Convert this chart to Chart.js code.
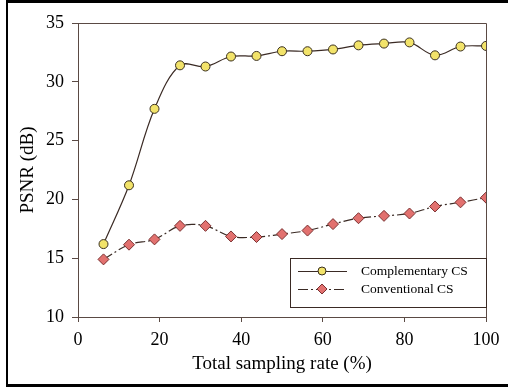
<!DOCTYPE html>
<html>
<head>
<meta charset="utf-8">
<script src="https://cdn.jsdelivr.net/npm/chart.js@4"></script>
<style>
  html, body { margin: 0; padding: 0; background: #fff; }
  #wrap { position: relative; width: 508px; height: 392px; overflow: hidden; }
  #frame {
    position: absolute; left: 6px; top: 0; width: 520px; height: 381px;
    border-top: 3px solid #000; border-left: 2px solid #000; border-bottom: 3px solid #000;
    pointer-events: none;
  }
  canvas { position: absolute; left: 0; top: 0; }
</style>
</head>
<body>
<div id="wrap">
  <canvas id="psnrChart" width="508" height="392"></canvas>
  <div id="frame"></div>
</div>
<script>
/* ---------- data ---------- */
const samplingRates = [6.25, 12.5, 18.75, 25, 31.25, 37.5, 43.75, 50, 56.25, 62.5, 68.75, 75, 81.25, 87.5, 93.75, 100];
const complementaryPSNR = [16.2, 21.2, 27.7, 31.4, 31.3, 32.15, 32.2, 32.6, 32.6, 32.75, 33.1, 33.25, 33.35, 32.25, 33.0, 33.05];
const conventionalPSNR = [14.9, 16.15, 16.6, 17.75, 17.75, 16.85, 16.8, 17.05, 17.35, 17.9, 18.4, 18.6, 18.8, 19.4, 19.75, 20.15];
const xTicks = [0, 20, 40, 60, 80, 100];
const yTicks = [10, 15, 20, 25, 30, 35];

const AXIS = "#5a4a44";
const FONT = "'Liberation Serif', 'Times New Roman', serif";

function toPoints(xs, ys) {
    return xs.map((x, i) => ({ x: x, y: ys[i] }));
}

/* frame on top/right of plot + boxed legend */
const framePlugin = {
    id: "plotFrame",
    afterDraw(chart) {
        const { ctx, chartArea: a } = chart;
        ctx.save();
        ctx.strokeStyle = AXIS;
        ctx.lineWidth = 1;
        ctx.beginPath();
        ctx.moveTo(a.left, a.top + 0.5);
        ctx.lineTo(a.right + 0.5, a.top + 0.5);
        ctx.lineTo(a.right + 0.5, a.bottom);
        ctx.stroke();

        // legend box
        const bx = 290.5, by = 258.5, bw = 196, bh = 49;
        ctx.fillStyle = "#fff";
        ctx.fillRect(bx, by, bw, bh);
        ctx.strokeStyle = "#3a2a24";
        ctx.strokeRect(bx, by, bw, bh);

        const rows = [{ ds: chart.data.datasets[0], y: 271 }, { ds: chart.data.datasets[1], y: 289 }];
        rows.forEach(r => {
            ctx.strokeStyle = r.ds.borderColor;
            ctx.lineWidth = 1;
            ctx.setLineDash(r.ds.borderDash || []);
            ctx.beginPath();
            ctx.moveTo(298, r.y + 0.5);
            ctx.lineTo(347, r.y + 0.5);
            ctx.stroke();
            ctx.setLineDash([]);
            ctx.fillStyle = r.ds.pointBackgroundColor;
            ctx.strokeStyle = r.ds.pointBorderColor;
            ctx.beginPath();
            if (r.ds.pointStyle === "rectRot") {
                const s = 5;
                ctx.moveTo(322, r.y - s); ctx.lineTo(322 + s, r.y);
                ctx.lineTo(322, r.y + s); ctx.lineTo(322 - s, r.y);
                ctx.closePath();
            } else {
                ctx.arc(322, r.y, 4, 0, Math.PI * 2);
            }
            ctx.fill();
            ctx.stroke();
            ctx.fillStyle = "#000";
            ctx.font = "13.5px " + FONT;
            ctx.textBaseline = "middle";
            ctx.fillText(r.ds.label, 361, r.y);
        });
        ctx.restore();
    }
};

new Chart(document.getElementById("psnrChart"), {
    type: "line",
    data: {
        datasets: [
            {
                label: "Complementary CS",
                data: toPoints(samplingRates, complementaryPSNR),
                borderColor: "#3a2a24",
                borderWidth: 1.2,
                tension: 0.35,
                pointStyle: "circle",
                pointRadius: 4.5,
                pointBackgroundColor: "#f2e36a",
                pointBorderColor: "#3a3020",
                pointBorderWidth: 1
            },
            {
                label: "Conventional CS",
                data: toPoints(samplingRates, conventionalPSNR),
                borderColor: "#3a2a24",
                borderWidth: 1.2,
                borderDash: [10, 3, 2, 3],
                tension: 0.35,
                pointStyle: "rectRot",
                pointRadius: 5.5,
                pointBackgroundColor: "#e2716f",
                pointBorderColor: "#7a3030",
                pointBorderWidth: 1
            }
        ]
    },
    options: {
        responsive: false,
        animation: false,
        layout: { padding: { left: 0, right: 22, top: 23, bottom: 17 } },
        plugins: { legend: { display: false }, tooltip: { enabled: false } },
        scales: {
            x: {
                type: "linear",
                min: 0, max: 100,
                afterBuildTicks: s => { s.ticks = xTicks.map(v => ({ value: v })); },
                afterFit: s => { s.height = 58; },
                grid: { drawOnChartArea: false, drawTicks: true, tickLength: 5, color: AXIS },
                border: { color: AXIS, width: 1 },
                ticks: { color: "#000", font: { family: FONT, size: 18 }, padding: 7 },
                title: { display: true, text: "Total sampling rate (%)", color: "#000", font: { family: FONT, size: 19 }, padding: { top: 0, bottom: 0 } }
            },
            y: {
                type: "linear",
                min: 10, max: 35,
                afterBuildTicks: s => { s.ticks = yTicks.map(v => ({ value: v })); },
                afterFit: s => { s.width = 78; },
                grid: { drawOnChartArea: false, drawTicks: true, tickLength: 6, color: AXIS },
                border: { color: AXIS, width: 1 },
                ticks: { color: "#000", font: { family: FONT, size: 18 }, padding: 8 },
                title: { display: true, text: "PSNR (dB)", color: "#000", font: { family: FONT, size: 19 }, padding: { top: 17, bottom: 0 } }
            }
        }
    },
    plugins: [framePlugin]
});
</script>
</body>
</html>
